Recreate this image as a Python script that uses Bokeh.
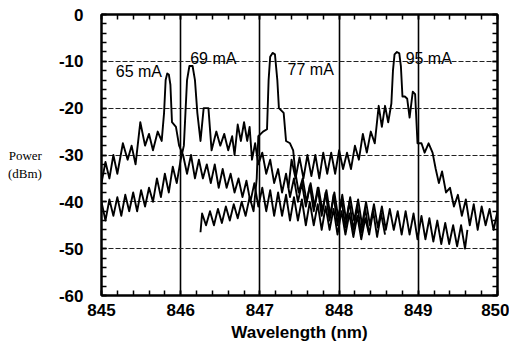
from bokeh.plotting import figure
from bokeh.models import Range1d, LinearAxis, SingleIntervalTicker, FixedTicker, Grid, Label
from bokeh.embed import file_html
from bokeh.resources import INLINE

# ---------------- data ----------------
wl_65 = [845.00, 845.05, 845.10, 845.15, 845.20, 845.27, 845.33, 845.38, 845.43, 845.49,
         845.55, 845.60, 845.65, 845.71, 845.76, 845.79, 845.81, 845.83, 845.85, 845.87,
         845.89, 845.94, 845.98,
         846.03, 846.08, 846.13, 846.18, 846.23, 846.28, 846.33, 846.38, 846.43, 846.48,
         846.53, 846.58, 846.63, 846.68, 846.73, 846.78, 846.83, 846.88, 846.93, 846.98,
         847.03, 847.08, 847.13, 847.18, 847.23, 847.28, 847.33, 847.38, 847.43, 847.48,
         847.53, 847.58, 847.63, 847.68, 847.73, 847.78, 847.83, 847.88, 847.93, 847.98,
         848.03, 848.08, 848.13, 848.18, 848.23, 848.28, 848.33, 848.38]
p_65 = [-36, -31.5, -35, -30, -34, -27.5, -31, -28, -32, -23,
        -28, -25.5, -29, -25, -27, -21, -14, -12.6, -12.8, -15,
        -23, -24, -28,
        -30, -34, -30, -35, -31, -35, -32, -36, -32, -37,
        -33, -37, -34, -38, -35, -39, -35.5, -40, -36, -41,
        -37, -42, -37.5, -43, -38, -43, -38.5, -44, -39, -44,
        -39.5, -45, -40, -45, -40.5, -46, -41, -46, -41.5, -47,
        -42, -47, -42.5, -47.5, -43, -48, -43.5, -47]

wl_69 = [845.00, 845.05, 845.10, 845.15, 845.20, 845.25, 845.30, 845.35, 845.40, 845.45,
         845.50, 845.55, 845.60, 845.65, 845.70, 845.75, 845.80, 845.85, 845.90, 845.95,
         846.00,
         846.04, 846.06, 846.08, 846.11, 846.15, 846.18, 846.21, 846.25, 846.29, 846.35,
         846.39,
         846.45, 846.50, 846.55, 846.60, 846.65, 846.68, 846.72, 846.76, 846.80, 846.84,
         846.87, 846.90, 846.94, 846.98,
         847.03, 847.08, 847.13, 847.18, 847.23, 847.28, 847.33, 847.38, 847.43, 847.48,
         847.53, 847.58, 847.63, 847.68, 847.73, 847.78, 847.83, 847.88, 847.93, 847.98,
         848.03, 848.08, 848.13, 848.18, 848.23, 848.28, 848.33, 848.38, 848.43, 848.48,
         848.53, 848.58]
p_69 = [-40, -44, -39.5, -43, -39, -43, -38.5, -42, -38, -42,
        -37.5, -41, -37, -40, -35, -39, -34, -38, -32.5, -36,
        -31,
        -28, -21, -14, -11, -11, -14, -21, -27, -20, -20,
        -29,
        -25, -28, -25.5, -29, -26, -30, -23.5, -27, -23, -27,
        -24, -31, -27.5, -32,
        -29.5, -34, -31, -36, -33, -38, -34, -39, -35, -40,
        -36, -41, -36.5, -42, -37, -43, -38, -44, -38.5, -45,
        -39.5, -45.5, -40, -46, -41, -46.5, -41.5, -47, -42, -47.5,
        -42.5, -47]

wl_77 = [846.25, 846.27, 846.32, 846.37, 846.42, 846.47, 846.52, 846.57, 846.62, 846.67,
         846.72, 846.77, 846.82, 846.87, 846.92,
         846.96, 846.98, 847.04, 847.09, 847.11, 847.13, 847.16, 847.19, 847.22, 847.24,
         847.30, 847.33, 847.38, 847.42, 847.45,
         847.49, 847.54, 847.59, 847.64, 847.69, 847.74, 847.79, 847.84, 847.89, 847.94,
         847.99, 848.04, 848.09, 848.14, 848.19, 848.24, 848.29, 848.34, 848.39, 848.44,
         848.49, 848.54, 848.59, 848.64, 848.69, 848.74, 848.79, 848.84, 848.89, 848.94,
         848.99, 849.04, 849.09, 849.14, 849.19, 849.24, 849.29, 849.34, 849.39, 849.44,
         849.49, 849.54, 849.59, 849.62]
p_77 = [-46.5, -42.5, -45, -42, -45, -41.5, -44.5, -41, -44, -40.5,
        -43.5, -40, -43, -39, -42,
        -35, -26, -25, -24.5, -14, -9, -8.2, -8.5, -14, -20,
        -21, -27, -27.5, -29, -34,
        -38, -35, -40, -36, -41, -37, -42, -37.5, -43, -38,
        -43.5, -38.5, -44, -39, -44, -39.5, -45, -40, -45, -40.5,
        -45.5, -41, -46, -41.5, -46, -42, -47, -42, -47, -42.5,
        -48, -43, -48, -43.5, -48.5, -44, -49, -44.5, -49, -45,
        -49.5, -45, -50, -46]

wl_95 = [847.36, 847.40, 847.45, 847.50, 847.55, 847.60, 847.65, 847.70, 847.75, 847.80,
         847.85, 847.90, 847.95, 848.00, 848.05, 848.10, 848.15, 848.20, 848.25, 848.30,
         848.35, 848.40, 848.45, 848.50, 848.54, 848.58, 848.62, 848.66, 848.68, 848.70,
         848.73, 848.76, 848.78, 848.80, 848.83, 848.86, 848.89, 848.93, 848.96, 848.99,
         849.04, 849.08, 849.13, 849.18, 849.22, 849.26, 849.30, 849.35, 849.40, 849.45,
         849.50, 849.55, 849.60, 849.65, 849.70, 849.75, 849.80, 849.85, 849.90, 849.95,
         850.00]
p_95 = [-37, -31, -35, -30.5, -35, -30, -34.5, -30, -35, -29.5,
        -34, -29.5, -34, -29, -33, -29.5, -33, -28, -31, -25.5,
        -29.5, -25, -27.5, -19.5, -24, -19.5, -23, -19, -12, -8.5,
        -8.0, -8.3, -11, -17.5, -17.5, -18, -22, -16.5, -17, -27.5,
        -27.5, -29.5, -27.5, -29.5, -33, -36, -33.5, -38, -37, -41,
        -38.5, -43, -39.5, -45, -40.5, -46, -41, -45, -41.5, -46,
        -42]

curve_labels = ["65 mA", "69 mA", "77 mA", "95 mA"]
label_x = [845.18, 846.12, 847.35, 848.84]
label_y = [-12.1, -9.4, -11.7, -9.4]

x_ticks = [845, 846, 847, 848, 849, 850]
y_ticks = [-60, -50, -40, -30, -20, -10, 0]
y_tick_labels = ["-60", "-50", "-40", "-30", "-20", "-10", "0"]
x_title = "Wavelength (nm)"
y_title = "\nPower\n(dBm)"

# ---------------- figure ----------------
p = figure(width=509, height=344, output_backend="svg", toolbar_location=None,
           x_range=Range1d(845, 850), y_range=Range1d(-60, 0),
           x_axis_type=None, y_axis_type=None,
           min_border_left=101, min_border_right=12, min_border_top=14, min_border_bottom=48,
           background_fill_color="white", border_fill_color="white")
p.outline_line_color = "black"
p.outline_line_width = 2

# grids
p.add_layout(Grid(dimension=0, ticker=FixedTicker(ticks=x_ticks[1:-1]),
                  grid_line_color="black", grid_line_width=1.6))
p.add_layout(Grid(dimension=1, ticker=FixedTicker(ticks=y_ticks[1:-1]),
                  grid_line_color="#222222", grid_line_width=1.2, grid_line_dash="5 2"))

def make_axis(interval, **kw):
    return LinearAxis(ticker=SingleIntervalTicker(interval=interval, num_minor_ticks=5),
                      major_tick_in=5, major_tick_out=0, minor_tick_in=5, minor_tick_out=0,
                      axis_line_color="black", axis_line_width=2,
                      major_tick_line_color="black", major_tick_line_width=1.5,
                      minor_tick_line_color="black", minor_tick_line_width=1.5,
                      major_label_text_font="Liberation Sans",
                      major_label_text_font_style="bold",
                      major_label_text_font_size="17px",
                      major_label_text_color="black", **kw)

xb = make_axis(1, major_label_standoff=8,
               axis_label=x_title, axis_label_standoff=4,
               axis_label_text_font="Liberation Sans", axis_label_text_font_style="bold",
               axis_label_text_font_size="17px", axis_label_text_color="black")
yl = make_axis(10, major_label_standoff=18,
               major_label_overrides={t: s for t, s in zip(y_ticks, y_tick_labels)},
               axis_label=y_title, axis_label_orientation="horizontal",
               axis_label_standoff=14,
               axis_label_text_font="Liberation Serif", axis_label_text_font_style="normal",
               axis_label_text_font_size="13px", axis_label_text_color="black",
               axis_label_text_align="center")
xt = make_axis(1, major_label_overrides={t: "" for t in x_ticks}, major_label_standoff=0)
yr = make_axis(10, major_label_overrides={t: "" for t in y_ticks}, major_label_standoff=0)
p.add_layout(xb, "below")
p.add_layout(yl, "left")
p.add_layout(xt, "above")
p.add_layout(yr, "right")

# spectra
for wl, pw in [(wl_65, p_65), (wl_69, p_69), (wl_77, p_77), (wl_95, p_95)]:
    p.line(wl, pw, line_color="black", line_width=1.9, line_join="round")

# curve labels
for t, x, y in zip(curve_labels, label_x, label_y):
    p.add_layout(Label(x=x, y=y, text=t, text_font="Liberation Sans",
                       text_font_size="16px", text_color="black",
                       text_baseline="alphabetic", text_align="left"))

open("out.html", "w").write(file_html(p, INLINE))
